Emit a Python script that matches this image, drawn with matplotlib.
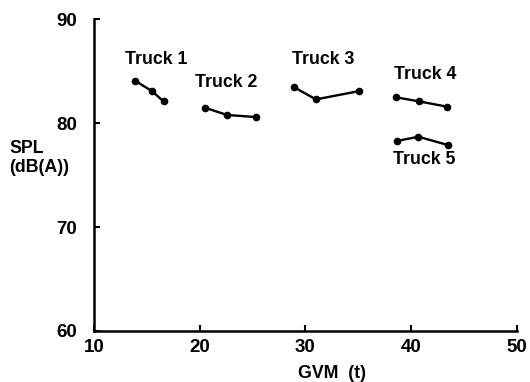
import matplotlib.pyplot as plt

plt.rcParams['font.family'] = ['Liberation Sans', 'DejaVu Sans']

# GVM (t) et SPL (dB(A)) pour chaque camion
truck1_gvm = [13.9, 15.5, 16.6]
truck1_spl = [84.1, 83.1, 82.1]
truck2_gvm = [20.5, 22.6, 25.3]
truck2_spl = [81.5, 80.8, 80.6]
truck3_gvm = [28.9, 31.0, 35.1]
truck3_spl = [83.5, 82.3, 83.1]
truck4_gvm = [38.6, 40.8, 43.4]
truck4_spl = [82.5, 82.1, 81.6]
truck5_gvm = [38.7, 40.7, 43.5]
truck5_spl = [78.3, 78.7, 77.9]

labels = ['Truck 1', 'Truck 2', 'Truck 3', 'Truck 4', 'Truck 5']
label_pos = [(15.9, 86.1), (22.5, 83.9), (31.7, 86.1), (41.3, 84.7), (41.2, 76.5)]

fig = plt.figure(figsize=(5.3, 3.82), dpi=100)
ax = fig.add_axes([0.177, 0.134, 0.798, 0.815])

series = [(truck1_gvm, truck1_spl), (truck2_gvm, truck2_spl), (truck3_gvm, truck3_spl),
          (truck4_gvm, truck4_spl), (truck5_gvm, truck5_spl)]
for gvm, spl in series:
    ax.plot(gvm, spl, color='black', lw=1.7, marker='o', ms=4.5)

for text, (x, y) in zip(labels, label_pos):
    ax.text(x, y, text, ha='center', va='center', fontsize=12.8, fontweight='bold')

ax.set_xlim(10, 50)
ax.set_ylim(60, 90)
ax.set_xticks([10, 20, 30, 40, 50])
ax.set_yticks([60, 70, 80, 90])
ax.tick_params(direction='in', length=4, width=1.5, labelsize=13.5)
ax.tick_params(axis='y', pad=12)
ax.tick_params(axis='x', pad=6)
for lab in ax.get_xticklabels() + ax.get_yticklabels():
    lab.set_fontweight('bold')

for side in ['top', 'right']:
    ax.spines[side].set_visible(False)
for side in ['left', 'bottom']:
    ax.spines[side].set_linewidth(1.8)

fig.text(9 / 530, 1 - 158 / 382, 'SPL\n(dB(A))', ha='left', va='center',
         fontsize=12.8, fontweight='bold', linespacing=1.15)
ax.text(32.5, 55.9, 'GVM  (t)', ha='center', va='center',
        fontsize=12.8, fontweight='bold')

fig.savefig('out.png', dpi=100)
